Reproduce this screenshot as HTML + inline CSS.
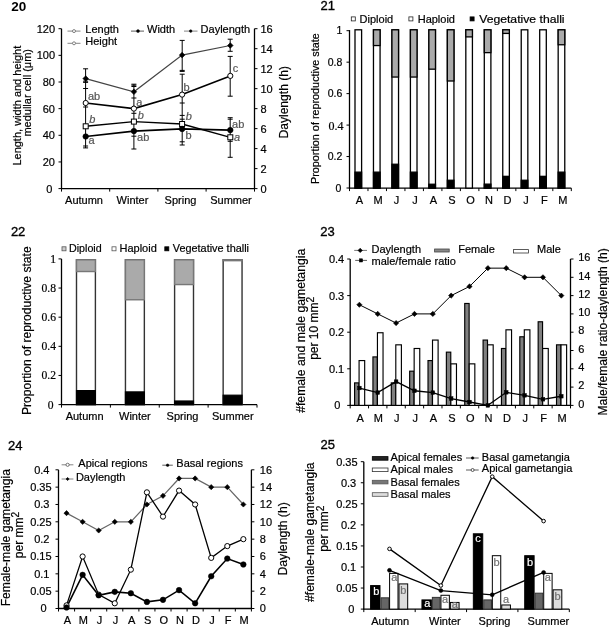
<!DOCTYPE html>
<html><head><meta charset="utf-8"><style>
html,body{margin:0;padding:0;background:#fff;width:609px;height:627px;overflow:hidden}
svg{display:block;filter:blur(0.45px)}
</style></head><body>
<svg width="609" height="627" viewBox="0 0 609 627">
<rect width="609" height="627" fill="#fff"/>
<text x="11.20" y="10.90" font-size="13.5" text-anchor="start" fill="#000" font-weight="bold" style='font-family:"Liberation Sans", sans-serif'>20</text>
<line x1="61.50" y1="28.70" x2="61.50" y2="189.10" stroke="#000" stroke-width="1.3"/>
<line x1="60.90" y1="188.60" x2="255.10" y2="188.60" stroke="#000" stroke-width="1.3"/>
<line x1="254.50" y1="28.70" x2="254.50" y2="189.10" stroke="#000" stroke-width="1.3"/>
<line x1="58.50" y1="188.60" x2="61.50" y2="188.60" stroke="#000" stroke-width="1"/>
<text x="46.35" y="192.50" font-size="11" text-anchor="start" fill="#000" font-weight="normal" style='font-family:"Liberation Sans", sans-serif' stroke="#000" stroke-width="0.2">0</text>
<line x1="58.50" y1="161.95" x2="61.50" y2="161.95" stroke="#000" stroke-width="1"/>
<text x="55.00" y="165.85" font-size="11" text-anchor="end" fill="#000" font-weight="normal" style='font-family:"Liberation Sans", sans-serif' stroke="#000" stroke-width="0.2">20</text>
<line x1="58.50" y1="135.30" x2="61.50" y2="135.30" stroke="#000" stroke-width="1"/>
<text x="55.00" y="139.20" font-size="11" text-anchor="end" fill="#000" font-weight="normal" style='font-family:"Liberation Sans", sans-serif' stroke="#000" stroke-width="0.2">40</text>
<line x1="58.50" y1="108.65" x2="61.50" y2="108.65" stroke="#000" stroke-width="1"/>
<text x="55.00" y="112.55" font-size="11" text-anchor="end" fill="#000" font-weight="normal" style='font-family:"Liberation Sans", sans-serif' stroke="#000" stroke-width="0.2">60</text>
<line x1="58.50" y1="82.00" x2="61.50" y2="82.00" stroke="#000" stroke-width="1"/>
<text x="55.00" y="85.90" font-size="11" text-anchor="end" fill="#000" font-weight="normal" style='font-family:"Liberation Sans", sans-serif' stroke="#000" stroke-width="0.2">80</text>
<line x1="58.50" y1="55.35" x2="61.50" y2="55.35" stroke="#000" stroke-width="1"/>
<text x="55.00" y="59.25" font-size="11" text-anchor="end" fill="#000" font-weight="normal" style='font-family:"Liberation Sans", sans-serif' stroke="#000" stroke-width="0.2">100</text>
<line x1="58.50" y1="28.70" x2="61.50" y2="28.70" stroke="#000" stroke-width="1"/>
<text x="55.00" y="32.60" font-size="11" text-anchor="end" fill="#000" font-weight="normal" style='font-family:"Liberation Sans", sans-serif' stroke="#000" stroke-width="0.2">120</text>
<line x1="254.50" y1="188.60" x2="257.50" y2="188.60" stroke="#000" stroke-width="1"/>
<text x="260.50" y="192.50" font-size="11" text-anchor="start" fill="#000" font-weight="normal" style='font-family:"Liberation Sans", sans-serif' stroke="#000" stroke-width="0.2">0</text>
<line x1="254.50" y1="168.61" x2="257.50" y2="168.61" stroke="#000" stroke-width="1"/>
<text x="260.50" y="172.51" font-size="11" text-anchor="start" fill="#000" font-weight="normal" style='font-family:"Liberation Sans", sans-serif' stroke="#000" stroke-width="0.2">2</text>
<line x1="254.50" y1="148.62" x2="257.50" y2="148.62" stroke="#000" stroke-width="1"/>
<text x="260.50" y="152.53" font-size="11" text-anchor="start" fill="#000" font-weight="normal" style='font-family:"Liberation Sans", sans-serif' stroke="#000" stroke-width="0.2">4</text>
<line x1="254.50" y1="128.64" x2="257.50" y2="128.64" stroke="#000" stroke-width="1"/>
<text x="260.50" y="132.54" font-size="11" text-anchor="start" fill="#000" font-weight="normal" style='font-family:"Liberation Sans", sans-serif' stroke="#000" stroke-width="0.2">6</text>
<line x1="254.50" y1="108.65" x2="257.50" y2="108.65" stroke="#000" stroke-width="1"/>
<text x="260.50" y="112.55" font-size="11" text-anchor="start" fill="#000" font-weight="normal" style='font-family:"Liberation Sans", sans-serif' stroke="#000" stroke-width="0.2">8</text>
<line x1="254.50" y1="88.66" x2="257.50" y2="88.66" stroke="#000" stroke-width="1"/>
<text x="260.50" y="92.56" font-size="11" text-anchor="start" fill="#000" font-weight="normal" style='font-family:"Liberation Sans", sans-serif' stroke="#000" stroke-width="0.2">10</text>
<line x1="254.50" y1="68.67" x2="257.50" y2="68.67" stroke="#000" stroke-width="1"/>
<text x="260.50" y="72.57" font-size="11" text-anchor="start" fill="#000" font-weight="normal" style='font-family:"Liberation Sans", sans-serif' stroke="#000" stroke-width="0.2">12</text>
<line x1="254.50" y1="48.69" x2="257.50" y2="48.69" stroke="#000" stroke-width="1"/>
<text x="260.50" y="52.59" font-size="11" text-anchor="start" fill="#000" font-weight="normal" style='font-family:"Liberation Sans", sans-serif' stroke="#000" stroke-width="0.2">14</text>
<line x1="254.50" y1="28.70" x2="257.50" y2="28.70" stroke="#000" stroke-width="1"/>
<text x="260.50" y="32.60" font-size="11" text-anchor="start" fill="#000" font-weight="normal" style='font-family:"Liberation Sans", sans-serif' stroke="#000" stroke-width="0.2">16</text>
<line x1="61.50" y1="188.60" x2="61.50" y2="191.60" stroke="#000" stroke-width="1"/>
<line x1="109.70" y1="188.60" x2="109.70" y2="191.60" stroke="#000" stroke-width="1"/>
<line x1="157.90" y1="188.60" x2="157.90" y2="191.60" stroke="#000" stroke-width="1"/>
<line x1="206.10" y1="188.60" x2="206.10" y2="191.60" stroke="#000" stroke-width="1"/>
<line x1="254.50" y1="188.60" x2="254.50" y2="191.60" stroke="#000" stroke-width="1"/>
<text x="84.05" y="204.40" font-size="11" text-anchor="middle" fill="#000" font-weight="normal" style='font-family:"Liberation Sans", sans-serif' stroke="#000" stroke-width="0.2">Autumn</text>
<text x="132.50" y="204.40" font-size="11" text-anchor="middle" fill="#000" font-weight="normal" style='font-family:"Liberation Sans", sans-serif' stroke="#000" stroke-width="0.2">Winter</text>
<text x="180.50" y="204.40" font-size="11" text-anchor="middle" fill="#000" font-weight="normal" style='font-family:"Liberation Sans", sans-serif' stroke="#000" stroke-width="0.2">Spring</text>
<text x="231.00" y="204.40" font-size="11" text-anchor="middle" fill="#000" font-weight="normal" style='font-family:"Liberation Sans", sans-serif' stroke="#000" stroke-width="0.2">Summer</text>
<text x="20.60" y="165.60" font-size="11" text-anchor="start" fill="#000" font-weight="normal" style='font-family:"Liberation Sans", sans-serif' transform="rotate(-90 20.60 165.60)" stroke="#000" stroke-width="0.2">Length, width and height</text>
<text x="31.30" y="136.60" font-size="11" text-anchor="start" fill="#000" font-weight="normal" style='font-family:"Liberation Sans", sans-serif' transform="rotate(-90 31.30 136.60)" stroke="#000" stroke-width="0.2">medullar cell (&#956;m)</text>
<text x="287.80" y="138.50" font-size="12" text-anchor="start" fill="#000" font-weight="normal" style='font-family:"Liberation Sans", sans-serif' transform="rotate(-90 287.80 138.50)" textLength="72.5" lengthAdjust="spacingAndGlyphs" stroke="#000" stroke-width="0.2">Daylength (h)</text>
<line x1="85.60" y1="68.80" x2="85.60" y2="148.00" stroke="#000" stroke-width="1"/>
<line x1="83.10" y1="68.80" x2="88.10" y2="68.80" stroke="#000" stroke-width="1"/>
<line x1="83.10" y1="81.20" x2="88.10" y2="81.20" stroke="#000" stroke-width="1"/>
<line x1="83.10" y1="82.40" x2="88.10" y2="82.40" stroke="#000" stroke-width="1"/>
<line x1="83.10" y1="88.50" x2="88.10" y2="88.50" stroke="#000" stroke-width="1"/>
<line x1="83.10" y1="107.00" x2="88.10" y2="107.00" stroke="#000" stroke-width="1"/>
<line x1="83.10" y1="146.00" x2="88.10" y2="146.00" stroke="#000" stroke-width="1"/>
<line x1="83.10" y1="147.90" x2="88.10" y2="147.90" stroke="#000" stroke-width="1"/>
<line x1="133.90" y1="84.20" x2="133.90" y2="149.00" stroke="#000" stroke-width="1"/>
<line x1="131.40" y1="84.20" x2="136.40" y2="84.20" stroke="#000" stroke-width="1"/>
<line x1="131.40" y1="85.20" x2="136.40" y2="85.20" stroke="#000" stroke-width="1"/>
<line x1="131.40" y1="86.50" x2="136.40" y2="86.50" stroke="#000" stroke-width="1"/>
<line x1="131.40" y1="98.00" x2="136.40" y2="98.00" stroke="#000" stroke-width="1"/>
<line x1="131.40" y1="113.30" x2="136.40" y2="113.30" stroke="#000" stroke-width="1"/>
<line x1="131.40" y1="136.20" x2="136.40" y2="136.20" stroke="#000" stroke-width="1"/>
<line x1="131.40" y1="149.00" x2="136.40" y2="149.00" stroke="#000" stroke-width="1"/>
<line x1="182.20" y1="40.40" x2="182.20" y2="71.40" stroke="#000" stroke-width="1"/>
<line x1="182.20" y1="74.20" x2="182.20" y2="145.00" stroke="#000" stroke-width="1"/>
<line x1="179.70" y1="40.40" x2="184.70" y2="40.40" stroke="#000" stroke-width="1"/>
<line x1="179.70" y1="70.40" x2="184.70" y2="70.40" stroke="#000" stroke-width="1"/>
<line x1="179.70" y1="71.40" x2="184.70" y2="71.40" stroke="#000" stroke-width="1"/>
<line x1="179.70" y1="74.20" x2="184.70" y2="74.20" stroke="#000" stroke-width="1"/>
<line x1="179.70" y1="103.00" x2="184.70" y2="103.00" stroke="#000" stroke-width="1"/>
<line x1="179.70" y1="115.40" x2="184.70" y2="115.40" stroke="#000" stroke-width="1"/>
<line x1="179.70" y1="119.20" x2="184.70" y2="119.20" stroke="#000" stroke-width="1"/>
<line x1="179.70" y1="141.80" x2="184.70" y2="141.80" stroke="#000" stroke-width="1"/>
<line x1="179.70" y1="145.00" x2="184.70" y2="145.00" stroke="#000" stroke-width="1"/>
<line x1="230.20" y1="39.20" x2="230.20" y2="51.30" stroke="#000" stroke-width="1"/>
<line x1="227.70" y1="39.20" x2="232.70" y2="39.20" stroke="#000" stroke-width="1"/>
<line x1="227.70" y1="51.30" x2="232.70" y2="51.30" stroke="#000" stroke-width="1"/>
<line x1="230.20" y1="56.40" x2="230.20" y2="96.20" stroke="#000" stroke-width="1"/>
<line x1="227.70" y1="56.40" x2="232.70" y2="56.40" stroke="#000" stroke-width="1"/>
<line x1="227.70" y1="96.20" x2="232.70" y2="96.20" stroke="#000" stroke-width="1"/>
<line x1="230.20" y1="117.70" x2="230.20" y2="157.30" stroke="#000" stroke-width="1"/>
<line x1="227.70" y1="117.70" x2="232.70" y2="117.70" stroke="#000" stroke-width="1"/>
<line x1="227.70" y1="119.20" x2="232.70" y2="119.20" stroke="#000" stroke-width="1"/>
<line x1="227.70" y1="141.30" x2="232.70" y2="141.30" stroke="#000" stroke-width="1"/>
<line x1="227.70" y1="157.30" x2="232.70" y2="157.30" stroke="#000" stroke-width="1"/>
<polyline points="85.70,78.60 133.90,91.80 182.10,55.10 230.30,45.50" fill="none" stroke="#444" stroke-width="1.2" stroke-linejoin="miter"/>
<polyline points="85.70,103.00 133.90,108.60 182.10,94.60 230.30,75.90" fill="none" stroke="#000" stroke-width="1.6" stroke-linejoin="miter"/>
<polyline points="85.70,126.30 133.90,121.60 182.10,124.00 230.30,137.30" fill="none" stroke="#000" stroke-width="1.4" stroke-linejoin="miter"/>
<polyline points="85.70,136.50 133.90,131.10 182.10,128.90 230.30,130.10" fill="none" stroke="#000" stroke-width="1.6" stroke-linejoin="miter"/>
<path d="M85.70 75.80L88.50 78.60L85.70 81.40L82.90 78.60Z" fill="#000" stroke="#000" stroke-width="0.6"/>
<path d="M133.90 89.00L136.70 91.80L133.90 94.60L131.10 91.80Z" fill="#000" stroke="#000" stroke-width="0.6"/>
<path d="M182.10 52.30L184.90 55.10L182.10 57.90L179.30 55.10Z" fill="#000" stroke="#000" stroke-width="0.6"/>
<path d="M230.30 42.70L233.10 45.50L230.30 48.30L227.50 45.50Z" fill="#000" stroke="#000" stroke-width="0.6"/>
<circle cx="85.70" cy="103.00" r="2.6" fill="#fff" stroke="#000" stroke-width="1"/>
<circle cx="133.90" cy="108.60" r="2.6" fill="#fff" stroke="#000" stroke-width="1"/>
<circle cx="182.10" cy="94.60" r="2.6" fill="#fff" stroke="#000" stroke-width="1"/>
<circle cx="230.30" cy="75.90" r="2.6" fill="#fff" stroke="#000" stroke-width="1"/>
<rect x="83.20" y="123.80" width="5.00" height="5.00" fill="#fff" stroke="#000" stroke-width="1"/>
<rect x="131.40" y="119.10" width="5.00" height="5.00" fill="#fff" stroke="#000" stroke-width="1"/>
<rect x="179.60" y="121.50" width="5.00" height="5.00" fill="#fff" stroke="#000" stroke-width="1"/>
<rect x="227.80" y="134.80" width="5.00" height="5.00" fill="#fff" stroke="#000" stroke-width="1"/>
<circle cx="85.70" cy="136.50" r="2.8" fill="#000" stroke="#000" stroke-width="0.5"/>
<circle cx="133.90" cy="131.10" r="2.8" fill="#000" stroke="#000" stroke-width="0.5"/>
<circle cx="182.10" cy="128.90" r="2.8" fill="#000" stroke="#000" stroke-width="0.5"/>
<circle cx="230.30" cy="130.10" r="2.8" fill="#000" stroke="#000" stroke-width="0.5"/>
<text x="88.00" y="100.20" font-size="11" text-anchor="start" fill="#555" font-weight="normal" style='font-family:"Liberation Sans", sans-serif' stroke="#555" stroke-width="0.2">ab</text>
<text x="89.20" y="123.00" font-size="11" text-anchor="start" fill="#555" font-weight="normal" style='font-family:"Liberation Sans", sans-serif' font-style="italic" stroke="#555" stroke-width="0.2">b</text>
<text x="88.50" y="144.00" font-size="11" text-anchor="start" fill="#555" font-weight="normal" style='font-family:"Liberation Sans", sans-serif' stroke="#555" stroke-width="0.2">a</text>
<text x="136.30" y="106.30" font-size="11" text-anchor="start" fill="#555" font-weight="normal" style='font-family:"Liberation Sans", sans-serif' stroke="#555" stroke-width="0.2">a</text>
<text x="137.80" y="119.00" font-size="11" text-anchor="start" fill="#555" font-weight="normal" style='font-family:"Liberation Sans", sans-serif' font-style="italic" stroke="#555" stroke-width="0.2">b</text>
<text x="137.10" y="141.30" font-size="11" text-anchor="start" fill="#555" font-weight="normal" style='font-family:"Liberation Sans", sans-serif' stroke="#555" stroke-width="0.2">ab</text>
<text x="183.60" y="90.50" font-size="11" text-anchor="start" fill="#555" font-weight="normal" style='font-family:"Liberation Sans", sans-serif' stroke="#555" stroke-width="0.2">b</text>
<text x="185.80" y="120.20" font-size="11" text-anchor="start" fill="#555" font-weight="normal" style='font-family:"Liberation Sans", sans-serif' font-style="italic" stroke="#555" stroke-width="0.2">b</text>
<text x="185.60" y="139.30" font-size="11" text-anchor="start" fill="#555" font-weight="normal" style='font-family:"Liberation Sans", sans-serif' stroke="#555" stroke-width="0.2">b</text>
<text x="232.80" y="72.30" font-size="11" text-anchor="start" fill="#555" font-weight="normal" style='font-family:"Liberation Sans", sans-serif' stroke="#555" stroke-width="0.2">c</text>
<text x="232.10" y="127.80" font-size="11" text-anchor="start" fill="#555" font-weight="normal" style='font-family:"Liberation Sans", sans-serif' stroke="#555" stroke-width="0.2">ab</text>
<text x="234.00" y="141.20" font-size="11" text-anchor="start" fill="#555" font-weight="normal" style='font-family:"Liberation Sans", sans-serif' font-style="italic" stroke="#555" stroke-width="0.2">a</text>
<line x1="67.50" y1="31.10" x2="80.50" y2="31.10" stroke="#666" stroke-width="0.8"/>
<circle cx="74.00" cy="31.10" r="1.5" fill="#fff" stroke="#666" stroke-width="0.8"/>
<text x="85.30" y="32.80" font-size="11" text-anchor="start" fill="#000" font-weight="normal" style='font-family:"Liberation Sans", sans-serif' stroke="#000" stroke-width="0.2">Length</text>
<line x1="67.50" y1="43.30" x2="80.50" y2="43.30" stroke="#666" stroke-width="0.8"/>
<circle cx="74.00" cy="43.30" r="1.5" fill="#fff" stroke="#666" stroke-width="0.8"/>
<text x="85.30" y="44.80" font-size="11" text-anchor="start" fill="#000" font-weight="normal" style='font-family:"Liberation Sans", sans-serif' stroke="#000" stroke-width="0.2">Height</text>
<line x1="131.00" y1="31.10" x2="144.00" y2="31.10" stroke="#333" stroke-width="0.8"/>
<circle cx="138.00" cy="31.10" r="1.5" fill="#000" stroke="#000" stroke-width="0.4"/>
<text x="147.00" y="32.80" font-size="11" text-anchor="start" fill="#000" font-weight="normal" style='font-family:"Liberation Sans", sans-serif' stroke="#000" stroke-width="0.2">Width</text>
<line x1="184.00" y1="31.10" x2="197.50" y2="31.10" stroke="#666" stroke-width="0.8"/>
<circle cx="190.70" cy="31.10" r="1.3" fill="#000" stroke="#000" stroke-width="0.5"/>
<text x="200.60" y="32.80" font-size="11" text-anchor="start" fill="#000" font-weight="normal" style='font-family:"Liberation Sans", sans-serif' stroke="#000" stroke-width="0.2">Daylength</text>
<text x="320.60" y="10.30" font-size="13" text-anchor="start" fill="#000" font-weight="normal" style='font-family:"Liberation Sans", sans-serif' stroke="#000" stroke-width="0.35">21</text>
<line x1="349.50" y1="30.10" x2="349.50" y2="188.70" stroke="#000" stroke-width="1.3"/>
<line x1="348.90" y1="188.10" x2="571.30" y2="188.10" stroke="#000" stroke-width="1.3"/>
<line x1="346.50" y1="188.00" x2="349.50" y2="188.00" stroke="#000" stroke-width="1"/>
<text x="335.60" y="191.70" font-size="10.5" text-anchor="start" fill="#000" font-weight="normal" style='font-family:"Liberation Sans", sans-serif' stroke="#000" stroke-width="0.2">0</text>
<line x1="346.50" y1="156.54" x2="349.50" y2="156.54" stroke="#000" stroke-width="1"/>
<text x="342.40" y="160.24" font-size="10.5" text-anchor="end" fill="#000" font-weight="normal" style='font-family:"Liberation Sans", sans-serif' stroke="#000" stroke-width="0.2">0.2</text>
<line x1="346.50" y1="125.08" x2="349.50" y2="125.08" stroke="#000" stroke-width="1"/>
<text x="343.60" y="129.50" font-size="12" text-anchor="end" fill="#000" font-weight="normal" style='font-family:"Liberation Serif", serif' stroke="#000" stroke-width="0.2">0.4</text>
<line x1="346.50" y1="93.62" x2="349.50" y2="93.62" stroke="#000" stroke-width="1"/>
<text x="342.40" y="97.32" font-size="10.5" text-anchor="end" fill="#000" font-weight="normal" style='font-family:"Liberation Sans", sans-serif' stroke="#000" stroke-width="0.2">0.6</text>
<line x1="346.50" y1="62.16" x2="349.50" y2="62.16" stroke="#000" stroke-width="1"/>
<text x="342.40" y="65.86" font-size="10.5" text-anchor="end" fill="#000" font-weight="normal" style='font-family:"Liberation Sans", sans-serif' stroke="#000" stroke-width="0.2">0.8</text>
<line x1="346.50" y1="30.70" x2="349.50" y2="30.70" stroke="#000" stroke-width="1"/>
<text x="342.40" y="34.40" font-size="10.5" text-anchor="end" fill="#000" font-weight="normal" style='font-family:"Liberation Sans", sans-serif' stroke="#000" stroke-width="0.2">1</text>
<line x1="349.50" y1="188.10" x2="349.50" y2="191.10" stroke="#000" stroke-width="1"/>
<line x1="367.98" y1="188.10" x2="367.98" y2="191.10" stroke="#000" stroke-width="1"/>
<line x1="386.47" y1="188.10" x2="386.47" y2="191.10" stroke="#000" stroke-width="1"/>
<line x1="404.95" y1="188.10" x2="404.95" y2="191.10" stroke="#000" stroke-width="1"/>
<line x1="423.43" y1="188.10" x2="423.43" y2="191.10" stroke="#000" stroke-width="1"/>
<line x1="441.92" y1="188.10" x2="441.92" y2="191.10" stroke="#000" stroke-width="1"/>
<line x1="460.40" y1="188.10" x2="460.40" y2="191.10" stroke="#000" stroke-width="1"/>
<line x1="478.88" y1="188.10" x2="478.88" y2="191.10" stroke="#000" stroke-width="1"/>
<line x1="497.37" y1="188.10" x2="497.37" y2="191.10" stroke="#000" stroke-width="1"/>
<line x1="515.85" y1="188.10" x2="515.85" y2="191.10" stroke="#000" stroke-width="1"/>
<line x1="534.33" y1="188.10" x2="534.33" y2="191.10" stroke="#000" stroke-width="1"/>
<line x1="552.82" y1="188.10" x2="552.82" y2="191.10" stroke="#000" stroke-width="1"/>
<line x1="571.30" y1="188.10" x2="571.30" y2="191.10" stroke="#000" stroke-width="1"/>
<rect x="355.00" y="29.80" width="6.60" height="158.30" fill="#fff" stroke="#000" stroke-width="1.3"/>
<rect x="355.00" y="172.15" width="6.60" height="15.95" fill="#000" stroke="#000" stroke-width="1.3"/>
<text x="359.54" y="203.80" font-size="11" text-anchor="middle" fill="#000" font-weight="normal" style='font-family:"Liberation Sans", sans-serif' stroke="#000" stroke-width="0.2">A</text>
<rect x="373.47" y="29.80" width="6.60" height="158.30" fill="#fff" stroke="#000" stroke-width="1.3"/>
<rect x="373.47" y="29.80" width="6.60" height="15.75" fill="#aaa" stroke="#000" stroke-width="1.3"/>
<rect x="373.47" y="172.15" width="6.60" height="15.95" fill="#000" stroke="#000" stroke-width="1.3"/>
<text x="378.03" y="203.80" font-size="11" text-anchor="middle" fill="#000" font-weight="normal" style='font-family:"Liberation Sans", sans-serif' stroke="#000" stroke-width="0.2">M</text>
<rect x="391.94" y="29.80" width="6.60" height="158.30" fill="#fff" stroke="#000" stroke-width="1.3"/>
<rect x="391.94" y="29.80" width="6.60" height="47.25" fill="#aaa" stroke="#000" stroke-width="1.3"/>
<rect x="391.94" y="164.25" width="6.60" height="23.85" fill="#000" stroke="#000" stroke-width="1.3"/>
<text x="396.51" y="203.80" font-size="11" text-anchor="middle" fill="#000" font-weight="normal" style='font-family:"Liberation Sans", sans-serif' stroke="#000" stroke-width="0.2">J</text>
<rect x="410.41" y="29.80" width="6.60" height="158.30" fill="#fff" stroke="#000" stroke-width="1.3"/>
<rect x="410.41" y="29.80" width="6.60" height="47.25" fill="#aaa" stroke="#000" stroke-width="1.3"/>
<rect x="410.41" y="172.15" width="6.60" height="15.95" fill="#000" stroke="#000" stroke-width="1.3"/>
<text x="414.99" y="203.80" font-size="11" text-anchor="middle" fill="#000" font-weight="normal" style='font-family:"Liberation Sans", sans-serif' stroke="#000" stroke-width="0.2">J</text>
<rect x="428.88" y="29.80" width="6.60" height="158.30" fill="#fff" stroke="#000" stroke-width="1.3"/>
<rect x="428.88" y="29.80" width="6.60" height="39.38" fill="#aaa" stroke="#000" stroke-width="1.3"/>
<rect x="428.88" y="184.25" width="6.60" height="3.85" fill="#000" stroke="#000" stroke-width="1.3"/>
<text x="433.47" y="203.80" font-size="11" text-anchor="middle" fill="#000" font-weight="normal" style='font-family:"Liberation Sans", sans-serif' stroke="#000" stroke-width="0.2">A</text>
<rect x="447.35" y="29.80" width="6.60" height="158.30" fill="#fff" stroke="#000" stroke-width="1.3"/>
<rect x="447.35" y="29.80" width="6.60" height="51.19" fill="#aaa" stroke="#000" stroke-width="1.3"/>
<rect x="447.35" y="180.25" width="6.60" height="7.85" fill="#000" stroke="#000" stroke-width="1.3"/>
<text x="451.96" y="203.80" font-size="11" text-anchor="middle" fill="#000" font-weight="normal" style='font-family:"Liberation Sans", sans-serif' stroke="#000" stroke-width="0.2">S</text>
<rect x="465.82" y="29.80" width="6.60" height="158.30" fill="#fff" stroke="#000" stroke-width="1.3"/>
<rect x="465.82" y="29.80" width="6.60" height="7.09" fill="#aaa" stroke="#000" stroke-width="1.3"/>
<text x="470.44" y="203.80" font-size="11" text-anchor="middle" fill="#000" font-weight="normal" style='font-family:"Liberation Sans", sans-serif' stroke="#000" stroke-width="0.2">O</text>
<rect x="484.29" y="29.80" width="6.60" height="158.30" fill="#fff" stroke="#000" stroke-width="1.3"/>
<rect x="484.29" y="29.80" width="6.60" height="22.84" fill="#aaa" stroke="#000" stroke-width="1.3"/>
<rect x="484.29" y="184.15" width="6.60" height="3.95" fill="#000" stroke="#000" stroke-width="1.3"/>
<text x="488.93" y="203.80" font-size="11" text-anchor="middle" fill="#000" font-weight="normal" style='font-family:"Liberation Sans", sans-serif' stroke="#000" stroke-width="0.2">N</text>
<rect x="502.76" y="29.80" width="6.60" height="158.30" fill="#fff" stroke="#000" stroke-width="1.3"/>
<rect x="502.76" y="29.80" width="6.60" height="3.62" fill="#aaa" stroke="#000" stroke-width="1.3"/>
<rect x="502.76" y="176.35" width="6.60" height="11.75" fill="#000" stroke="#000" stroke-width="1.3"/>
<text x="507.41" y="203.80" font-size="11" text-anchor="middle" fill="#000" font-weight="normal" style='font-family:"Liberation Sans", sans-serif' stroke="#000" stroke-width="0.2">D</text>
<rect x="521.23" y="29.80" width="6.60" height="158.30" fill="#fff" stroke="#000" stroke-width="1.3"/>
<rect x="521.23" y="180.25" width="6.60" height="7.85" fill="#000" stroke="#000" stroke-width="1.3"/>
<text x="525.89" y="203.80" font-size="11" text-anchor="middle" fill="#000" font-weight="normal" style='font-family:"Liberation Sans", sans-serif' stroke="#000" stroke-width="0.2">J</text>
<rect x="539.70" y="29.80" width="6.60" height="158.30" fill="#fff" stroke="#000" stroke-width="1.3"/>
<rect x="539.70" y="176.35" width="6.60" height="11.75" fill="#000" stroke="#000" stroke-width="1.3"/>
<text x="544.37" y="203.80" font-size="11" text-anchor="middle" fill="#000" font-weight="normal" style='font-family:"Liberation Sans", sans-serif' stroke="#000" stroke-width="0.2">F</text>
<rect x="558.17" y="29.80" width="6.60" height="158.30" fill="#fff" stroke="#000" stroke-width="1.3"/>
<rect x="558.17" y="29.80" width="6.60" height="14.96" fill="#aaa" stroke="#000" stroke-width="1.3"/>
<rect x="558.17" y="172.15" width="6.60" height="15.95" fill="#000" stroke="#000" stroke-width="1.3"/>
<text x="562.86" y="203.80" font-size="11" text-anchor="middle" fill="#000" font-weight="normal" style='font-family:"Liberation Sans", sans-serif' stroke="#000" stroke-width="0.2">M</text>
<text x="318.50" y="184.00" font-size="11" text-anchor="start" fill="#000" font-weight="normal" style='font-family:"Liberation Sans", sans-serif' transform="rotate(-90 318.50 184.00)" textLength="150.8" lengthAdjust="spacingAndGlyphs" stroke="#000" stroke-width="0.2">Proportion of reproductive state</text>
<rect x="351.30" y="16.90" width="4.00" height="4.00" fill="#fff" stroke="#222" stroke-width="0.8"/>
<text x="359.60" y="22.70" font-size="11" text-anchor="start" fill="#000" font-weight="normal" style='font-family:"Liberation Sans", sans-serif' stroke="#000" stroke-width="0.2">Diploid</text>
<rect x="408.90" y="16.90" width="4.00" height="4.00" fill="#fff" stroke="#222" stroke-width="0.8"/>
<text x="417.70" y="22.70" font-size="11" text-anchor="start" fill="#000" font-weight="normal" style='font-family:"Liberation Sans", sans-serif' stroke="#000" stroke-width="0.2">Haploid</text>
<rect x="470.10" y="16.90" width="4.00" height="4.00" fill="#000" stroke="#000" stroke-width="0.8"/>
<text x="479.20" y="22.70" font-size="11" text-anchor="start" fill="#000" font-weight="normal" style='font-family:"Liberation Sans", sans-serif' textLength="85.4" lengthAdjust="spacingAndGlyphs" stroke="#000" stroke-width="0.2">Vegetative thalli</text>
<text x="10.90" y="236.20" font-size="13" text-anchor="start" fill="#000" font-weight="normal" style='font-family:"Liberation Sans", sans-serif' stroke="#000" stroke-width="0.35">22</text>
<line x1="61.50" y1="258.90" x2="61.50" y2="405.10" stroke="#000" stroke-width="1.3"/>
<line x1="60.90" y1="404.60" x2="257.00" y2="404.60" stroke="#000" stroke-width="1.3"/>
<line x1="58.50" y1="404.60" x2="61.50" y2="404.60" stroke="#000" stroke-width="1"/>
<text x="53.50" y="408.50" font-size="11.6" text-anchor="end" fill="#000" font-weight="normal" style='font-family:"Liberation Serif", serif' stroke="#000" stroke-width="0.2">0</text>
<line x1="58.50" y1="375.46" x2="61.50" y2="375.46" stroke="#000" stroke-width="1"/>
<text x="56.00" y="379.36" font-size="11.6" text-anchor="end" fill="#000" font-weight="normal" style='font-family:"Liberation Serif", serif' stroke="#000" stroke-width="0.2">0.2</text>
<line x1="58.50" y1="346.32" x2="61.50" y2="346.32" stroke="#000" stroke-width="1"/>
<text x="56.00" y="350.22" font-size="11.6" text-anchor="end" fill="#000" font-weight="normal" style='font-family:"Liberation Serif", serif' stroke="#000" stroke-width="0.2">0.4</text>
<line x1="58.50" y1="317.18" x2="61.50" y2="317.18" stroke="#000" stroke-width="1"/>
<text x="56.00" y="321.08" font-size="11.6" text-anchor="end" fill="#000" font-weight="normal" style='font-family:"Liberation Serif", serif' stroke="#000" stroke-width="0.2">0.6</text>
<line x1="58.50" y1="288.04" x2="61.50" y2="288.04" stroke="#000" stroke-width="1"/>
<text x="56.00" y="291.94" font-size="11.6" text-anchor="end" fill="#000" font-weight="normal" style='font-family:"Liberation Serif", serif' stroke="#000" stroke-width="0.2">0.8</text>
<line x1="58.50" y1="258.90" x2="61.50" y2="258.90" stroke="#000" stroke-width="1"/>
<text x="56.00" y="262.80" font-size="11.6" text-anchor="end" fill="#000" font-weight="normal" style='font-family:"Liberation Serif", serif' stroke="#000" stroke-width="0.2">1</text>
<line x1="61.50" y1="404.60" x2="61.50" y2="407.60" stroke="#000" stroke-width="1"/>
<line x1="110.38" y1="404.60" x2="110.38" y2="407.60" stroke="#000" stroke-width="1"/>
<line x1="159.25" y1="404.60" x2="159.25" y2="407.60" stroke="#000" stroke-width="1"/>
<line x1="208.12" y1="404.60" x2="208.12" y2="407.60" stroke="#000" stroke-width="1"/>
<line x1="257.00" y1="404.60" x2="257.00" y2="407.60" stroke="#000" stroke-width="1"/>
<rect x="76.50" y="259.80" width="18.90" height="144.80" fill="#fff" stroke="#333" stroke-width="1.4"/>
<rect x="76.50" y="259.80" width="18.90" height="11.73" fill="#aaa" stroke="#777" stroke-width="1.4"/>
<rect x="76.50" y="390.60" width="18.90" height="14.00" fill="#000" stroke="#000" stroke-width="1.2"/>
<text x="84.60" y="420.20" font-size="11" text-anchor="middle" fill="#000" font-weight="normal" style='font-family:"Liberation Sans", sans-serif' stroke="#000" stroke-width="0.2">Autumn</text>
<rect x="125.45" y="259.80" width="18.90" height="144.80" fill="#fff" stroke="#333" stroke-width="1.4"/>
<rect x="125.45" y="259.80" width="18.90" height="39.96" fill="#aaa" stroke="#777" stroke-width="1.4"/>
<rect x="125.45" y="391.90" width="18.90" height="12.70" fill="#000" stroke="#000" stroke-width="1.2"/>
<text x="134.90" y="420.20" font-size="11" text-anchor="middle" fill="#000" font-weight="normal" style='font-family:"Liberation Sans", sans-serif' stroke="#000" stroke-width="0.2">Winter</text>
<rect x="174.60" y="259.80" width="18.90" height="144.80" fill="#fff" stroke="#333" stroke-width="1.4"/>
<rect x="174.60" y="259.80" width="18.90" height="24.76" fill="#aaa" stroke="#777" stroke-width="1.4"/>
<rect x="174.60" y="401.00" width="18.90" height="3.60" fill="#000" stroke="#000" stroke-width="1.2"/>
<text x="182.50" y="420.20" font-size="11" text-anchor="middle" fill="#000" font-weight="normal" style='font-family:"Liberation Sans", sans-serif' stroke="#000" stroke-width="0.2">Spring</text>
<rect x="223.15" y="259.80" width="18.90" height="144.80" fill="#fff" stroke="#333" stroke-width="1.4"/>
<rect x="223.15" y="259.80" width="18.90" height="0.87" fill="#aaa" stroke="#777" stroke-width="1.4"/>
<rect x="223.15" y="395.20" width="18.90" height="9.40" fill="#000" stroke="#000" stroke-width="1.2"/>
<text x="232.80" y="420.20" font-size="11" text-anchor="middle" fill="#000" font-weight="normal" style='font-family:"Liberation Sans", sans-serif' stroke="#000" stroke-width="0.2">Summer</text>
<text x="30.60" y="415.10" font-size="12" text-anchor="start" fill="#000" font-weight="normal" style='font-family:"Liberation Sans", sans-serif' transform="rotate(-90 30.60 415.10)" textLength="168.8" lengthAdjust="spacingAndGlyphs" stroke="#000" stroke-width="0.2">Proportion of reproductive state</text>
<rect x="62.00" y="246.80" width="4.00" height="4.00" fill="#ccc" stroke="#555" stroke-width="0.8"/>
<text x="69.00" y="251.80" font-size="11" text-anchor="start" fill="#000" font-weight="normal" style='font-family:"Liberation Sans", sans-serif' textLength="32.7" lengthAdjust="spacingAndGlyphs" stroke="#000" stroke-width="0.2">Diploid</text>
<rect x="112.00" y="246.80" width="4.00" height="4.00" fill="#fff" stroke="#555" stroke-width="0.8"/>
<text x="119.50" y="251.80" font-size="11" text-anchor="start" fill="#000" font-weight="normal" style='font-family:"Liberation Sans", sans-serif' stroke="#000" stroke-width="0.2">Haploid</text>
<rect x="164.80" y="246.80" width="4.00" height="4.00" fill="#000" stroke="#000" stroke-width="0.8"/>
<text x="172.80" y="251.80" font-size="11" text-anchor="start" fill="#000" font-weight="normal" style='font-family:"Liberation Sans", sans-serif' textLength="76.2" lengthAdjust="spacingAndGlyphs" stroke="#000" stroke-width="0.2">Vegetative thalli</text>
<text x="320.30" y="235.90" font-size="13" text-anchor="start" fill="#000" font-weight="normal" style='font-family:"Liberation Sans", sans-serif' stroke="#000" stroke-width="0.35">23</text>
<line x1="350.20" y1="259.00" x2="350.20" y2="405.90" stroke="#000" stroke-width="1.3"/>
<line x1="570.50" y1="259.00" x2="570.50" y2="405.90" stroke="#000" stroke-width="1.3"/>
<line x1="349.60" y1="405.40" x2="571.10" y2="405.40" stroke="#000" stroke-width="1.3"/>
<line x1="347.20" y1="405.40" x2="350.20" y2="405.40" stroke="#000" stroke-width="1"/>
<text x="334.35" y="409.30" font-size="11" text-anchor="start" fill="#000" font-weight="normal" style='font-family:"Liberation Sans", sans-serif' stroke="#000" stroke-width="0.2">0</text>
<line x1="347.20" y1="368.80" x2="350.20" y2="368.80" stroke="#000" stroke-width="1"/>
<text x="344.20" y="372.70" font-size="11" text-anchor="end" fill="#000" font-weight="normal" style='font-family:"Liberation Sans", sans-serif' stroke="#000" stroke-width="0.2">0.1</text>
<line x1="347.20" y1="332.20" x2="350.20" y2="332.20" stroke="#000" stroke-width="1"/>
<text x="344.20" y="336.10" font-size="11" text-anchor="end" fill="#000" font-weight="normal" style='font-family:"Liberation Sans", sans-serif' stroke="#000" stroke-width="0.2">0.2</text>
<line x1="347.20" y1="295.60" x2="350.20" y2="295.60" stroke="#000" stroke-width="1"/>
<text x="344.20" y="299.50" font-size="11" text-anchor="end" fill="#000" font-weight="normal" style='font-family:"Liberation Sans", sans-serif' stroke="#000" stroke-width="0.2">0.3</text>
<line x1="347.20" y1="259.00" x2="350.20" y2="259.00" stroke="#000" stroke-width="1"/>
<text x="344.20" y="262.90" font-size="11" text-anchor="end" fill="#000" font-weight="normal" style='font-family:"Liberation Sans", sans-serif' stroke="#000" stroke-width="0.2">0.4</text>
<line x1="570.50" y1="405.40" x2="573.50" y2="405.40" stroke="#000" stroke-width="1"/>
<text x="578.20" y="407.60" font-size="11" text-anchor="start" fill="#000" font-weight="normal" style='font-family:"Liberation Sans", sans-serif' stroke="#000" stroke-width="0.2">0</text>
<line x1="570.50" y1="387.10" x2="573.50" y2="387.10" stroke="#000" stroke-width="1"/>
<text x="578.20" y="389.30" font-size="11" text-anchor="start" fill="#000" font-weight="normal" style='font-family:"Liberation Sans", sans-serif' stroke="#000" stroke-width="0.2">2</text>
<line x1="570.50" y1="368.80" x2="573.50" y2="368.80" stroke="#000" stroke-width="1"/>
<text x="578.20" y="371.00" font-size="11" text-anchor="start" fill="#000" font-weight="normal" style='font-family:"Liberation Sans", sans-serif' stroke="#000" stroke-width="0.2">4</text>
<line x1="570.50" y1="350.50" x2="573.50" y2="350.50" stroke="#000" stroke-width="1"/>
<text x="578.20" y="352.70" font-size="11" text-anchor="start" fill="#000" font-weight="normal" style='font-family:"Liberation Sans", sans-serif' stroke="#000" stroke-width="0.2">6</text>
<line x1="570.50" y1="332.20" x2="573.50" y2="332.20" stroke="#000" stroke-width="1"/>
<text x="578.20" y="334.40" font-size="11" text-anchor="start" fill="#000" font-weight="normal" style='font-family:"Liberation Sans", sans-serif' stroke="#000" stroke-width="0.2">8</text>
<line x1="570.50" y1="313.90" x2="573.50" y2="313.90" stroke="#000" stroke-width="1"/>
<text x="578.20" y="316.10" font-size="11" text-anchor="start" fill="#000" font-weight="normal" style='font-family:"Liberation Sans", sans-serif' stroke="#000" stroke-width="0.2">10</text>
<line x1="570.50" y1="295.60" x2="573.50" y2="295.60" stroke="#000" stroke-width="1"/>
<text x="578.20" y="297.80" font-size="11" text-anchor="start" fill="#000" font-weight="normal" style='font-family:"Liberation Sans", sans-serif' stroke="#000" stroke-width="0.2">12</text>
<line x1="570.50" y1="277.30" x2="573.50" y2="277.30" stroke="#000" stroke-width="1"/>
<text x="578.20" y="279.50" font-size="11" text-anchor="start" fill="#000" font-weight="normal" style='font-family:"Liberation Sans", sans-serif' stroke="#000" stroke-width="0.2">14</text>
<line x1="570.50" y1="259.00" x2="573.50" y2="259.00" stroke="#000" stroke-width="1"/>
<text x="578.20" y="261.20" font-size="11" text-anchor="start" fill="#000" font-weight="normal" style='font-family:"Liberation Sans", sans-serif' stroke="#000" stroke-width="0.2">16</text>
<line x1="350.20" y1="405.40" x2="350.20" y2="408.40" stroke="#000" stroke-width="1"/>
<line x1="368.56" y1="405.40" x2="368.56" y2="408.40" stroke="#000" stroke-width="1"/>
<line x1="386.92" y1="405.40" x2="386.92" y2="408.40" stroke="#000" stroke-width="1"/>
<line x1="405.27" y1="405.40" x2="405.27" y2="408.40" stroke="#000" stroke-width="1"/>
<line x1="423.63" y1="405.40" x2="423.63" y2="408.40" stroke="#000" stroke-width="1"/>
<line x1="441.99" y1="405.40" x2="441.99" y2="408.40" stroke="#000" stroke-width="1"/>
<line x1="460.35" y1="405.40" x2="460.35" y2="408.40" stroke="#000" stroke-width="1"/>
<line x1="478.71" y1="405.40" x2="478.71" y2="408.40" stroke="#000" stroke-width="1"/>
<line x1="497.07" y1="405.40" x2="497.07" y2="408.40" stroke="#000" stroke-width="1"/>
<line x1="515.42" y1="405.40" x2="515.42" y2="408.40" stroke="#000" stroke-width="1"/>
<line x1="533.78" y1="405.40" x2="533.78" y2="408.40" stroke="#000" stroke-width="1"/>
<line x1="552.14" y1="405.40" x2="552.14" y2="408.40" stroke="#000" stroke-width="1"/>
<line x1="570.50" y1="405.40" x2="570.50" y2="408.40" stroke="#000" stroke-width="1"/>
<rect x="354.58" y="382.89" width="4.40" height="22.51" fill="#808080" stroke="#000" stroke-width="1.15"/>
<rect x="359.08" y="360.57" width="5.60" height="44.83" fill="#fff" stroke="#000" stroke-width="1.15"/>
<text x="360.08" y="421.80" font-size="11" text-anchor="middle" fill="#000" font-weight="normal" style='font-family:"Liberation Sans", sans-serif' stroke="#000" stroke-width="0.2">A</text>
<rect x="372.94" y="356.91" width="4.40" height="48.49" fill="#808080" stroke="#000" stroke-width="1.15"/>
<rect x="377.44" y="332.75" width="5.60" height="72.65" fill="#fff" stroke="#000" stroke-width="1.15"/>
<text x="378.44" y="421.80" font-size="11" text-anchor="middle" fill="#000" font-weight="normal" style='font-family:"Liberation Sans", sans-serif' stroke="#000" stroke-width="0.2">M</text>
<rect x="391.30" y="382.89" width="4.40" height="22.51" fill="#808080" stroke="#000" stroke-width="1.15"/>
<rect x="395.80" y="344.83" width="5.60" height="60.57" fill="#fff" stroke="#000" stroke-width="1.15"/>
<text x="396.80" y="421.80" font-size="11" text-anchor="middle" fill="#000" font-weight="normal" style='font-family:"Liberation Sans", sans-serif' stroke="#000" stroke-width="0.2">J</text>
<rect x="409.65" y="371.18" width="4.40" height="34.22" fill="#808080" stroke="#000" stroke-width="1.15"/>
<rect x="414.15" y="348.49" width="5.60" height="56.91" fill="#fff" stroke="#000" stroke-width="1.15"/>
<text x="415.15" y="421.80" font-size="11" text-anchor="middle" fill="#000" font-weight="normal" style='font-family:"Liberation Sans", sans-serif' stroke="#000" stroke-width="0.2">J</text>
<rect x="428.01" y="360.57" width="4.40" height="44.83" fill="#808080" stroke="#000" stroke-width="1.15"/>
<rect x="432.51" y="340.07" width="5.60" height="65.33" fill="#fff" stroke="#000" stroke-width="1.15"/>
<text x="433.51" y="421.80" font-size="11" text-anchor="middle" fill="#000" font-weight="normal" style='font-family:"Liberation Sans", sans-serif' stroke="#000" stroke-width="0.2">A</text>
<rect x="446.37" y="352.15" width="4.40" height="53.25" fill="#808080" stroke="#000" stroke-width="1.15"/>
<rect x="450.87" y="363.86" width="5.60" height="41.54" fill="#fff" stroke="#000" stroke-width="1.15"/>
<text x="451.87" y="421.80" font-size="11" text-anchor="middle" fill="#000" font-weight="normal" style='font-family:"Liberation Sans", sans-serif' stroke="#000" stroke-width="0.2">S</text>
<rect x="464.73" y="303.47" width="4.40" height="101.93" fill="#808080" stroke="#000" stroke-width="1.15"/>
<rect x="469.23" y="363.86" width="5.60" height="41.54" fill="#fff" stroke="#000" stroke-width="1.15"/>
<text x="470.23" y="421.80" font-size="11" text-anchor="middle" fill="#000" font-weight="normal" style='font-family:"Liberation Sans", sans-serif' stroke="#000" stroke-width="0.2">O</text>
<rect x="483.09" y="340.07" width="4.40" height="65.33" fill="#808080" stroke="#000" stroke-width="1.15"/>
<rect x="487.59" y="344.83" width="5.60" height="60.57" fill="#fff" stroke="#000" stroke-width="1.15"/>
<text x="488.59" y="421.80" font-size="11" text-anchor="middle" fill="#000" font-weight="normal" style='font-family:"Liberation Sans", sans-serif' stroke="#000" stroke-width="0.2">N</text>
<rect x="501.45" y="348.49" width="4.40" height="56.91" fill="#808080" stroke="#000" stroke-width="1.15"/>
<rect x="505.95" y="329.82" width="5.60" height="75.58" fill="#fff" stroke="#000" stroke-width="1.15"/>
<text x="506.95" y="421.80" font-size="11" text-anchor="middle" fill="#000" font-weight="normal" style='font-family:"Liberation Sans", sans-serif' stroke="#000" stroke-width="0.2">D</text>
<rect x="519.80" y="336.78" width="4.40" height="68.62" fill="#808080" stroke="#000" stroke-width="1.15"/>
<rect x="524.30" y="329.82" width="5.60" height="75.58" fill="#fff" stroke="#000" stroke-width="1.15"/>
<text x="525.30" y="421.80" font-size="11" text-anchor="middle" fill="#000" font-weight="normal" style='font-family:"Liberation Sans", sans-serif' stroke="#000" stroke-width="0.2">J</text>
<rect x="538.16" y="321.77" width="4.40" height="83.63" fill="#808080" stroke="#000" stroke-width="1.15"/>
<rect x="542.66" y="348.49" width="5.60" height="56.91" fill="#fff" stroke="#000" stroke-width="1.15"/>
<text x="543.66" y="421.80" font-size="11" text-anchor="middle" fill="#000" font-weight="normal" style='font-family:"Liberation Sans", sans-serif' stroke="#000" stroke-width="0.2">F</text>
<rect x="556.52" y="344.83" width="4.40" height="60.57" fill="#808080" stroke="#000" stroke-width="1.15"/>
<rect x="561.02" y="344.83" width="5.60" height="60.57" fill="#fff" stroke="#000" stroke-width="1.15"/>
<text x="562.02" y="421.80" font-size="11" text-anchor="middle" fill="#000" font-weight="normal" style='font-family:"Liberation Sans", sans-serif' stroke="#000" stroke-width="0.2">M</text>
<polyline points="359.38,304.75 377.74,313.90 396.10,323.05 414.45,313.90 432.81,313.90 451.17,295.60 469.53,286.45 487.89,268.15 506.25,268.15 524.60,277.30 542.96,277.30 561.32,295.60" fill="none" stroke="#000" stroke-width="1" stroke-linejoin="miter"/>
<path d="M359.38 302.15L361.98 304.75L359.38 307.35L356.78 304.75Z" fill="#000" stroke="#000" stroke-width="0.6"/>
<path d="M377.74 311.30L380.34 313.90L377.74 316.50L375.14 313.90Z" fill="#000" stroke="#000" stroke-width="0.6"/>
<path d="M396.10 320.45L398.70 323.05L396.10 325.65L393.50 323.05Z" fill="#000" stroke="#000" stroke-width="0.6"/>
<path d="M414.45 311.30L417.05 313.90L414.45 316.50L411.85 313.90Z" fill="#000" stroke="#000" stroke-width="0.6"/>
<path d="M432.81 311.30L435.41 313.90L432.81 316.50L430.21 313.90Z" fill="#000" stroke="#000" stroke-width="0.6"/>
<path d="M451.17 293.00L453.77 295.60L451.17 298.20L448.57 295.60Z" fill="#000" stroke="#000" stroke-width="0.6"/>
<path d="M469.53 283.85L472.13 286.45L469.53 289.05L466.93 286.45Z" fill="#000" stroke="#000" stroke-width="0.6"/>
<path d="M487.89 265.55L490.49 268.15L487.89 270.75L485.29 268.15Z" fill="#000" stroke="#000" stroke-width="0.6"/>
<path d="M506.25 265.55L508.85 268.15L506.25 270.75L503.65 268.15Z" fill="#000" stroke="#000" stroke-width="0.6"/>
<path d="M524.60 274.70L527.20 277.30L524.60 279.90L522.00 277.30Z" fill="#000" stroke="#000" stroke-width="0.6"/>
<path d="M542.96 274.70L545.56 277.30L542.96 279.90L540.36 277.30Z" fill="#000" stroke="#000" stroke-width="0.6"/>
<path d="M561.32 293.00L563.92 295.60L561.32 298.20L558.72 295.60Z" fill="#000" stroke="#000" stroke-width="0.6"/>
<polyline points="359.38,388.01 377.74,392.59 396.10,381.61 414.45,390.76 432.81,392.59 451.17,398.54 469.53,402.01 487.89,405.40 506.25,392.32 524.60,395.33 542.96,399.27 561.32,396.25" fill="none" stroke="#000" stroke-width="1.3" stroke-linejoin="miter"/>
<rect x="357.58" y="386.21" width="3.60" height="3.60" fill="#000" stroke="#000" stroke-width="0.5"/>
<rect x="375.94" y="390.79" width="3.60" height="3.60" fill="#000" stroke="#000" stroke-width="0.5"/>
<rect x="394.30" y="379.81" width="3.60" height="3.60" fill="#000" stroke="#000" stroke-width="0.5"/>
<rect x="412.65" y="388.96" width="3.60" height="3.60" fill="#000" stroke="#000" stroke-width="0.5"/>
<rect x="431.01" y="390.79" width="3.60" height="3.60" fill="#000" stroke="#000" stroke-width="0.5"/>
<rect x="449.37" y="396.74" width="3.60" height="3.60" fill="#000" stroke="#000" stroke-width="0.5"/>
<rect x="467.73" y="400.21" width="3.60" height="3.60" fill="#000" stroke="#000" stroke-width="0.5"/>
<rect x="486.09" y="403.60" width="3.60" height="3.60" fill="#000" stroke="#000" stroke-width="0.5"/>
<rect x="504.45" y="390.52" width="3.60" height="3.60" fill="#000" stroke="#000" stroke-width="0.5"/>
<rect x="522.80" y="393.53" width="3.60" height="3.60" fill="#000" stroke="#000" stroke-width="0.5"/>
<rect x="541.16" y="397.47" width="3.60" height="3.60" fill="#000" stroke="#000" stroke-width="0.5"/>
<rect x="559.52" y="394.45" width="3.60" height="3.60" fill="#000" stroke="#000" stroke-width="0.5"/>
<text x="304.80" y="412.80" font-size="12" text-anchor="start" fill="#000" font-weight="normal" style='font-family:"Liberation Sans", sans-serif' transform="rotate(-90 304.80 412.80)" textLength="164.0" lengthAdjust="spacingAndGlyphs" stroke="#000" stroke-width="0.2">#female and male gametangia</text>
<text x="318.10" y="359.80" font-size="12" text-anchor="start" fill="#000" font-weight="normal" style='font-family:"Liberation Sans", sans-serif' transform="rotate(-90 318.10 359.80)" stroke="#000" stroke-width="0.2">per 10 mm<tspan font-size="10.2" dy="-3.9">2</tspan></text>
<text x="607.20" y="415.50" font-size="12" text-anchor="start" fill="#000" font-weight="normal" style='font-family:"Liberation Sans", sans-serif' transform="rotate(-90 607.20 415.50)" textLength="167.3" lengthAdjust="spacingAndGlyphs" stroke="#000" stroke-width="0.2">Male/female ratio-daylength (h)</text>
<line x1="354.20" y1="250.40" x2="367.00" y2="250.40" stroke="#555" stroke-width="0.8"/>
<path d="M360.20 248.20L362.40 250.40L360.20 252.60L358.00 250.40Z" fill="#000" stroke="#000" stroke-width="0.6"/>
<text x="371.50" y="253.00" font-size="11" text-anchor="start" fill="#000" font-weight="normal" style='font-family:"Liberation Sans", sans-serif' stroke="#000" stroke-width="0.2">Daylength</text>
<line x1="355.20" y1="260.40" x2="367.00" y2="260.40" stroke="#333" stroke-width="0.8"/>
<rect x="359.40" y="258.80" width="3.20" height="3.20" fill="#000" stroke="#000" stroke-width="0.5"/>
<text x="371.50" y="264.80" font-size="11" text-anchor="start" fill="#000" font-weight="normal" style='font-family:"Liberation Sans", sans-serif' stroke="#000" stroke-width="0.2">male/female ratio</text>
<rect x="434.60" y="249.00" width="14.60" height="3.00" fill="#888" stroke="#444" stroke-width="0.8"/>
<text x="458.20" y="252.80" font-size="11" text-anchor="start" fill="#000" font-weight="normal" style='font-family:"Liberation Sans", sans-serif' stroke="#000" stroke-width="0.2">Female</text>
<rect x="513.40" y="249.60" width="15.00" height="3.40" fill="#fff" stroke="#333" stroke-width="0.8"/>
<text x="537.00" y="252.60" font-size="11" text-anchor="start" fill="#000" font-weight="normal" style='font-family:"Liberation Sans", sans-serif' stroke="#000" stroke-width="0.2">Male</text>
<text x="8.00" y="449.90" font-size="13" text-anchor="start" fill="#000" font-weight="normal" style='font-family:"Liberation Sans", sans-serif' stroke="#000" stroke-width="0.35">24</text>
<line x1="58.50" y1="469.80" x2="58.50" y2="609.00" stroke="#000" stroke-width="1.3"/>
<line x1="251.40" y1="469.80" x2="251.40" y2="609.00" stroke="#000" stroke-width="1.3"/>
<line x1="57.90" y1="608.50" x2="252.00" y2="608.50" stroke="#000" stroke-width="1.3"/>
<line x1="55.50" y1="608.50" x2="58.50" y2="608.50" stroke="#000" stroke-width="1"/>
<text x="40.55" y="612.40" font-size="11" text-anchor="start" fill="#000" font-weight="normal" style='font-family:"Liberation Sans", sans-serif' stroke="#000" stroke-width="0.2">0</text>
<line x1="55.50" y1="591.16" x2="58.50" y2="591.16" stroke="#000" stroke-width="1"/>
<text x="30.15" y="595.06" font-size="11" text-anchor="start" fill="#000" font-weight="normal" style='font-family:"Liberation Sans", sans-serif' stroke="#000" stroke-width="0.2">0.05</text>
<line x1="55.50" y1="573.83" x2="58.50" y2="573.83" stroke="#000" stroke-width="1"/>
<text x="34.15" y="577.73" font-size="11" text-anchor="start" fill="#000" font-weight="normal" style='font-family:"Liberation Sans", sans-serif' stroke="#000" stroke-width="0.2">0.1</text>
<line x1="55.50" y1="556.49" x2="58.50" y2="556.49" stroke="#000" stroke-width="1"/>
<text x="30.15" y="560.39" font-size="11" text-anchor="start" fill="#000" font-weight="normal" style='font-family:"Liberation Sans", sans-serif' stroke="#000" stroke-width="0.2">0.15</text>
<line x1="55.50" y1="539.15" x2="58.50" y2="539.15" stroke="#000" stroke-width="1"/>
<text x="34.15" y="543.05" font-size="11" text-anchor="start" fill="#000" font-weight="normal" style='font-family:"Liberation Sans", sans-serif' stroke="#000" stroke-width="0.2">0.2</text>
<line x1="55.50" y1="521.81" x2="58.50" y2="521.81" stroke="#000" stroke-width="1"/>
<text x="30.15" y="525.71" font-size="11" text-anchor="start" fill="#000" font-weight="normal" style='font-family:"Liberation Sans", sans-serif' stroke="#000" stroke-width="0.2">0.25</text>
<line x1="55.50" y1="504.48" x2="58.50" y2="504.48" stroke="#000" stroke-width="1"/>
<text x="34.15" y="508.38" font-size="11" text-anchor="start" fill="#000" font-weight="normal" style='font-family:"Liberation Sans", sans-serif' stroke="#000" stroke-width="0.2">0.3</text>
<line x1="55.50" y1="487.14" x2="58.50" y2="487.14" stroke="#000" stroke-width="1"/>
<text x="30.15" y="491.04" font-size="11" text-anchor="start" fill="#000" font-weight="normal" style='font-family:"Liberation Sans", sans-serif' stroke="#000" stroke-width="0.2">0.35</text>
<line x1="55.50" y1="469.80" x2="58.50" y2="469.80" stroke="#000" stroke-width="1"/>
<text x="34.15" y="473.70" font-size="11" text-anchor="start" fill="#000" font-weight="normal" style='font-family:"Liberation Sans", sans-serif' stroke="#000" stroke-width="0.2">0.4</text>
<line x1="251.40" y1="608.50" x2="254.40" y2="608.50" stroke="#000" stroke-width="1"/>
<text x="259.80" y="612.40" font-size="11" text-anchor="start" fill="#000" font-weight="normal" style='font-family:"Liberation Sans", sans-serif' stroke="#000" stroke-width="0.2">0</text>
<line x1="251.40" y1="591.16" x2="254.40" y2="591.16" stroke="#000" stroke-width="1"/>
<text x="259.80" y="595.06" font-size="11" text-anchor="start" fill="#000" font-weight="normal" style='font-family:"Liberation Sans", sans-serif' stroke="#000" stroke-width="0.2">2</text>
<line x1="251.40" y1="573.83" x2="254.40" y2="573.83" stroke="#000" stroke-width="1"/>
<text x="259.80" y="577.73" font-size="11" text-anchor="start" fill="#000" font-weight="normal" style='font-family:"Liberation Sans", sans-serif' stroke="#000" stroke-width="0.2">4</text>
<line x1="251.40" y1="556.49" x2="254.40" y2="556.49" stroke="#000" stroke-width="1"/>
<text x="259.80" y="560.39" font-size="11" text-anchor="start" fill="#000" font-weight="normal" style='font-family:"Liberation Sans", sans-serif' stroke="#000" stroke-width="0.2">6</text>
<line x1="251.40" y1="539.15" x2="254.40" y2="539.15" stroke="#000" stroke-width="1"/>
<text x="259.80" y="543.05" font-size="11" text-anchor="start" fill="#000" font-weight="normal" style='font-family:"Liberation Sans", sans-serif' stroke="#000" stroke-width="0.2">8</text>
<line x1="251.40" y1="521.81" x2="254.40" y2="521.81" stroke="#000" stroke-width="1"/>
<text x="259.80" y="525.71" font-size="11" text-anchor="start" fill="#000" font-weight="normal" style='font-family:"Liberation Sans", sans-serif' stroke="#000" stroke-width="0.2">10</text>
<line x1="251.40" y1="504.48" x2="254.40" y2="504.48" stroke="#000" stroke-width="1"/>
<text x="259.80" y="508.38" font-size="11" text-anchor="start" fill="#000" font-weight="normal" style='font-family:"Liberation Sans", sans-serif' stroke="#000" stroke-width="0.2">12</text>
<line x1="251.40" y1="487.14" x2="254.40" y2="487.14" stroke="#000" stroke-width="1"/>
<text x="259.80" y="491.04" font-size="11" text-anchor="start" fill="#000" font-weight="normal" style='font-family:"Liberation Sans", sans-serif' stroke="#000" stroke-width="0.2">14</text>
<line x1="251.40" y1="469.80" x2="254.40" y2="469.80" stroke="#000" stroke-width="1"/>
<text x="259.80" y="473.70" font-size="11" text-anchor="start" fill="#000" font-weight="normal" style='font-family:"Liberation Sans", sans-serif' stroke="#000" stroke-width="0.2">16</text>
<line x1="58.50" y1="608.50" x2="58.50" y2="611.50" stroke="#000" stroke-width="1"/>
<line x1="74.58" y1="608.50" x2="74.58" y2="611.50" stroke="#000" stroke-width="1"/>
<line x1="90.65" y1="608.50" x2="90.65" y2="611.50" stroke="#000" stroke-width="1"/>
<line x1="106.72" y1="608.50" x2="106.72" y2="611.50" stroke="#000" stroke-width="1"/>
<line x1="122.80" y1="608.50" x2="122.80" y2="611.50" stroke="#000" stroke-width="1"/>
<line x1="138.88" y1="608.50" x2="138.88" y2="611.50" stroke="#000" stroke-width="1"/>
<line x1="154.95" y1="608.50" x2="154.95" y2="611.50" stroke="#000" stroke-width="1"/>
<line x1="171.02" y1="608.50" x2="171.02" y2="611.50" stroke="#000" stroke-width="1"/>
<line x1="187.10" y1="608.50" x2="187.10" y2="611.50" stroke="#000" stroke-width="1"/>
<line x1="203.17" y1="608.50" x2="203.17" y2="611.50" stroke="#000" stroke-width="1"/>
<line x1="219.25" y1="608.50" x2="219.25" y2="611.50" stroke="#000" stroke-width="1"/>
<line x1="235.32" y1="608.50" x2="235.32" y2="611.50" stroke="#000" stroke-width="1"/>
<line x1="251.40" y1="608.50" x2="251.40" y2="611.50" stroke="#000" stroke-width="1"/>
<polyline points="66.54,513.14 82.61,521.81 98.69,530.48 114.76,521.81 130.84,521.81 146.91,504.48 162.99,495.81 179.06,478.47 195.14,478.47 211.21,487.14 227.29,487.14 243.36,504.48" fill="none" stroke="#666" stroke-width="1.2" stroke-linejoin="miter"/>
<path d="M66.54 510.54L69.14 513.14L66.54 515.74L63.94 513.14Z" fill="#000" stroke="#000" stroke-width="0.6"/>
<path d="M82.61 519.21L85.21 521.81L82.61 524.41L80.01 521.81Z" fill="#000" stroke="#000" stroke-width="0.6"/>
<path d="M98.69 527.88L101.29 530.48L98.69 533.08L96.09 530.48Z" fill="#000" stroke="#000" stroke-width="0.6"/>
<path d="M114.76 519.21L117.36 521.81L114.76 524.41L112.16 521.81Z" fill="#000" stroke="#000" stroke-width="0.6"/>
<path d="M130.84 519.21L133.44 521.81L130.84 524.41L128.24 521.81Z" fill="#000" stroke="#000" stroke-width="0.6"/>
<path d="M146.91 501.88L149.51 504.48L146.91 507.08L144.31 504.48Z" fill="#000" stroke="#000" stroke-width="0.6"/>
<path d="M162.99 493.21L165.59 495.81L162.99 498.41L160.39 495.81Z" fill="#000" stroke="#000" stroke-width="0.6"/>
<path d="M179.06 475.87L181.66 478.47L179.06 481.07L176.46 478.47Z" fill="#000" stroke="#000" stroke-width="0.6"/>
<path d="M195.14 475.87L197.74 478.47L195.14 481.07L192.54 478.47Z" fill="#000" stroke="#000" stroke-width="0.6"/>
<path d="M211.21 484.54L213.81 487.14L211.21 489.74L208.61 487.14Z" fill="#000" stroke="#000" stroke-width="0.6"/>
<path d="M227.29 484.54L229.89 487.14L227.29 489.74L224.69 487.14Z" fill="#000" stroke="#000" stroke-width="0.6"/>
<path d="M243.36 501.88L245.96 504.48L243.36 507.08L240.76 504.48Z" fill="#000" stroke="#000" stroke-width="0.6"/>
<polyline points="66.54,605.38 82.61,556.49 98.69,594.63 114.76,603.30 130.84,569.66 146.91,492.34 162.99,516.61 179.06,490.61 195.14,504.48 211.21,557.87 227.29,546.09 243.36,539.15" fill="none" stroke="#000" stroke-width="1.3" stroke-linejoin="miter"/>
<polyline points="66.54,607.46 82.61,574.87 98.69,595.32 114.76,591.86 130.84,593.24 146.91,601.91 162.99,599.83 179.06,590.12 195.14,603.30 211.21,576.25 227.29,558.57 243.36,564.46" fill="none" stroke="#000" stroke-width="1.6" stroke-linejoin="miter"/>
<circle cx="66.54" cy="605.38" r="2.6" fill="#fff" stroke="#000" stroke-width="1"/>
<circle cx="82.61" cy="556.49" r="2.6" fill="#fff" stroke="#000" stroke-width="1"/>
<circle cx="98.69" cy="594.63" r="2.6" fill="#fff" stroke="#000" stroke-width="1"/>
<circle cx="114.76" cy="603.30" r="2.6" fill="#fff" stroke="#000" stroke-width="1"/>
<circle cx="130.84" cy="569.66" r="2.6" fill="#fff" stroke="#000" stroke-width="1"/>
<circle cx="146.91" cy="492.34" r="2.6" fill="#fff" stroke="#000" stroke-width="1"/>
<circle cx="162.99" cy="516.61" r="2.6" fill="#fff" stroke="#000" stroke-width="1"/>
<circle cx="179.06" cy="490.61" r="2.6" fill="#fff" stroke="#000" stroke-width="1"/>
<circle cx="195.14" cy="504.48" r="2.6" fill="#fff" stroke="#000" stroke-width="1"/>
<circle cx="211.21" cy="557.87" r="2.6" fill="#fff" stroke="#000" stroke-width="1"/>
<circle cx="227.29" cy="546.09" r="2.6" fill="#fff" stroke="#000" stroke-width="1"/>
<circle cx="243.36" cy="539.15" r="2.6" fill="#fff" stroke="#000" stroke-width="1"/>
<circle cx="66.54" cy="607.46" r="2.8" fill="#000" stroke="#000" stroke-width="0.5"/>
<circle cx="82.61" cy="574.87" r="2.8" fill="#000" stroke="#000" stroke-width="0.5"/>
<circle cx="98.69" cy="595.32" r="2.8" fill="#000" stroke="#000" stroke-width="0.5"/>
<circle cx="114.76" cy="591.86" r="2.8" fill="#000" stroke="#000" stroke-width="0.5"/>
<circle cx="130.84" cy="593.24" r="2.8" fill="#000" stroke="#000" stroke-width="0.5"/>
<circle cx="146.91" cy="601.91" r="2.8" fill="#000" stroke="#000" stroke-width="0.5"/>
<circle cx="162.99" cy="599.83" r="2.8" fill="#000" stroke="#000" stroke-width="0.5"/>
<circle cx="179.06" cy="590.12" r="2.8" fill="#000" stroke="#000" stroke-width="0.5"/>
<circle cx="195.14" cy="603.30" r="2.8" fill="#000" stroke="#000" stroke-width="0.5"/>
<circle cx="211.21" cy="576.25" r="2.8" fill="#000" stroke="#000" stroke-width="0.5"/>
<circle cx="227.29" cy="558.57" r="2.8" fill="#000" stroke="#000" stroke-width="0.5"/>
<circle cx="243.36" cy="564.46" r="2.8" fill="#000" stroke="#000" stroke-width="0.5"/>
<text x="67.34" y="624.00" font-size="11" text-anchor="middle" fill="#000" font-weight="normal" style='font-family:"Liberation Sans", sans-serif' stroke="#000" stroke-width="0.2">A</text>
<text x="83.41" y="624.00" font-size="11" text-anchor="middle" fill="#000" font-weight="normal" style='font-family:"Liberation Sans", sans-serif' stroke="#000" stroke-width="0.2">M</text>
<text x="99.49" y="624.00" font-size="11" text-anchor="middle" fill="#000" font-weight="normal" style='font-family:"Liberation Sans", sans-serif' stroke="#000" stroke-width="0.2">J</text>
<text x="115.56" y="624.00" font-size="11" text-anchor="middle" fill="#000" font-weight="normal" style='font-family:"Liberation Sans", sans-serif' stroke="#000" stroke-width="0.2">J</text>
<text x="131.64" y="624.00" font-size="11" text-anchor="middle" fill="#000" font-weight="normal" style='font-family:"Liberation Sans", sans-serif' stroke="#000" stroke-width="0.2">A</text>
<text x="147.71" y="624.00" font-size="11" text-anchor="middle" fill="#000" font-weight="normal" style='font-family:"Liberation Sans", sans-serif' stroke="#000" stroke-width="0.2">S</text>
<text x="163.79" y="624.00" font-size="11" text-anchor="middle" fill="#000" font-weight="normal" style='font-family:"Liberation Sans", sans-serif' stroke="#000" stroke-width="0.2">O</text>
<text x="179.86" y="624.00" font-size="11" text-anchor="middle" fill="#000" font-weight="normal" style='font-family:"Liberation Sans", sans-serif' stroke="#000" stroke-width="0.2">N</text>
<text x="195.94" y="624.00" font-size="11" text-anchor="middle" fill="#000" font-weight="normal" style='font-family:"Liberation Sans", sans-serif' stroke="#000" stroke-width="0.2">D</text>
<text x="212.01" y="624.00" font-size="11" text-anchor="middle" fill="#000" font-weight="normal" style='font-family:"Liberation Sans", sans-serif' stroke="#000" stroke-width="0.2">J</text>
<text x="228.09" y="624.00" font-size="11" text-anchor="middle" fill="#000" font-weight="normal" style='font-family:"Liberation Sans", sans-serif' stroke="#000" stroke-width="0.2">F</text>
<text x="244.16" y="624.00" font-size="11" text-anchor="middle" fill="#000" font-weight="normal" style='font-family:"Liberation Sans", sans-serif' stroke="#000" stroke-width="0.2">M</text>
<text x="9.80" y="606.30" font-size="12" text-anchor="start" fill="#000" font-weight="normal" style='font-family:"Liberation Sans", sans-serif' transform="rotate(-90 9.80 606.30)" textLength="137.2" lengthAdjust="spacingAndGlyphs" stroke="#000" stroke-width="0.2">Female-male gametangia</text>
<text x="22.60" y="558.20" font-size="12" text-anchor="start" fill="#000" font-weight="normal" style='font-family:"Liberation Sans", sans-serif' transform="rotate(-90 22.60 558.20)" stroke="#000" stroke-width="0.2">per mm<tspan font-size="10.2" dy="-3.9">2</tspan></text>
<text x="286.80" y="575.60" font-size="12" text-anchor="start" fill="#000" font-weight="normal" style='font-family:"Liberation Sans", sans-serif' transform="rotate(-90 286.80 575.60)" textLength="73.4" lengthAdjust="spacingAndGlyphs" stroke="#000" stroke-width="0.2">Daylength (h)</text>
<line x1="61.60" y1="464.80" x2="73.40" y2="464.80" stroke="#666" stroke-width="0.8"/>
<circle cx="67.60" cy="464.80" r="1.6" fill="#fff" stroke="#555" stroke-width="0.8"/>
<text x="78.30" y="467.10" font-size="11" text-anchor="start" fill="#000" font-weight="normal" style='font-family:"Liberation Sans", sans-serif' stroke="#000" stroke-width="0.2">Apical regions</text>
<line x1="61.60" y1="479.00" x2="73.40" y2="479.00" stroke="#666" stroke-width="0.8"/>
<path d="M67.60 477.40L69.20 479.00L67.60 480.60L66.00 479.00Z" fill="#000" stroke="#000" stroke-width="0.6"/>
<text x="75.90" y="481.10" font-size="11" text-anchor="start" fill="#000" font-weight="normal" style='font-family:"Liberation Sans", sans-serif' stroke="#000" stroke-width="0.2">Daylength</text>
<line x1="162.30" y1="465.20" x2="172.80" y2="465.20" stroke="#333" stroke-width="0.8"/>
<circle cx="167.60" cy="465.20" r="1.3" fill="#000" stroke="#000" stroke-width="0.5"/>
<text x="176.30" y="467.40" font-size="11" text-anchor="start" fill="#000" font-weight="normal" style='font-family:"Liberation Sans", sans-serif' stroke="#000" stroke-width="0.2">Basal regions</text>
<text x="320.60" y="449.30" font-size="13" text-anchor="start" fill="#000" font-weight="normal" style='font-family:"Liberation Sans", sans-serif' stroke="#000" stroke-width="0.35">25</text>
<line x1="363.80" y1="461.70" x2="363.80" y2="609.60" stroke="#000" stroke-width="1.3"/>
<line x1="363.20" y1="609.10" x2="569.30" y2="609.10" stroke="#000" stroke-width="1.3"/>
<line x1="360.80" y1="609.10" x2="363.80" y2="609.10" stroke="#000" stroke-width="1"/>
<text x="348.15" y="613.00" font-size="11" text-anchor="start" fill="#000" font-weight="normal" style='font-family:"Liberation Sans", sans-serif' stroke="#000" stroke-width="0.2">0</text>
<line x1="360.80" y1="588.04" x2="363.80" y2="588.04" stroke="#000" stroke-width="1"/>
<text x="336.15" y="591.94" font-size="11" text-anchor="start" fill="#000" font-weight="normal" style='font-family:"Liberation Sans", sans-serif' stroke="#000" stroke-width="0.2">0.05</text>
<line x1="360.80" y1="566.99" x2="363.80" y2="566.99" stroke="#000" stroke-width="1"/>
<text x="340.95" y="570.89" font-size="11" text-anchor="start" fill="#000" font-weight="normal" style='font-family:"Liberation Sans", sans-serif' stroke="#000" stroke-width="0.2">0.1</text>
<line x1="360.80" y1="545.93" x2="363.80" y2="545.93" stroke="#000" stroke-width="1"/>
<text x="336.15" y="549.83" font-size="11" text-anchor="start" fill="#000" font-weight="normal" style='font-family:"Liberation Sans", sans-serif' stroke="#000" stroke-width="0.2">0.15</text>
<line x1="360.80" y1="524.87" x2="363.80" y2="524.87" stroke="#000" stroke-width="1"/>
<text x="340.95" y="528.77" font-size="11" text-anchor="start" fill="#000" font-weight="normal" style='font-family:"Liberation Sans", sans-serif' stroke="#000" stroke-width="0.2">0.2</text>
<line x1="360.80" y1="503.81" x2="363.80" y2="503.81" stroke="#000" stroke-width="1"/>
<text x="336.15" y="507.71" font-size="11" text-anchor="start" fill="#000" font-weight="normal" style='font-family:"Liberation Sans", sans-serif' stroke="#000" stroke-width="0.2">0.25</text>
<line x1="360.80" y1="482.76" x2="363.80" y2="482.76" stroke="#000" stroke-width="1"/>
<text x="340.95" y="486.66" font-size="11" text-anchor="start" fill="#000" font-weight="normal" style='font-family:"Liberation Sans", sans-serif' stroke="#000" stroke-width="0.2">0.3</text>
<line x1="360.80" y1="461.70" x2="363.80" y2="461.70" stroke="#000" stroke-width="1"/>
<text x="336.15" y="465.60" font-size="11" text-anchor="start" fill="#000" font-weight="normal" style='font-family:"Liberation Sans", sans-serif' stroke="#000" stroke-width="0.2">0.35</text>
<line x1="363.80" y1="609.10" x2="363.80" y2="612.10" stroke="#000" stroke-width="1"/>
<line x1="415.18" y1="609.10" x2="415.18" y2="612.10" stroke="#000" stroke-width="1"/>
<line x1="466.55" y1="609.10" x2="466.55" y2="612.10" stroke="#000" stroke-width="1"/>
<line x1="517.92" y1="609.10" x2="517.92" y2="612.10" stroke="#000" stroke-width="1"/>
<line x1="569.30" y1="609.10" x2="569.30" y2="612.10" stroke="#000" stroke-width="1"/>
<rect x="370.59" y="585.59" width="9.40" height="23.51" fill="#000" stroke="#000" stroke-width="1"/>
<rect x="380.99" y="597.81" width="7.70" height="11.29" fill="#666" stroke="#333" stroke-width="1"/>
<rect x="389.59" y="573.38" width="8.40" height="35.72" fill="#fff" stroke="#000" stroke-width="1"/>
<rect x="398.99" y="583.91" width="8.70" height="25.19" fill="#ddd" stroke="#000" stroke-width="1"/>
<text x="390.20" y="624.80" font-size="11" text-anchor="middle" fill="#000" font-weight="normal" style='font-family:"Liberation Sans", sans-serif' stroke="#000" stroke-width="0.2">Autumn</text>
<rect x="421.96" y="599.91" width="9.40" height="9.19" fill="#000" stroke="#000" stroke-width="1"/>
<rect x="432.36" y="597.39" width="7.70" height="11.71" fill="#666" stroke="#333" stroke-width="1"/>
<rect x="440.96" y="595.28" width="8.40" height="13.82" fill="#fff" stroke="#000" stroke-width="1"/>
<rect x="450.36" y="602.44" width="8.70" height="6.66" fill="#ddd" stroke="#000" stroke-width="1"/>
<text x="444.90" y="624.80" font-size="11" text-anchor="middle" fill="#000" font-weight="normal" style='font-family:"Liberation Sans", sans-serif' stroke="#000" stroke-width="0.2">Winter</text>
<rect x="473.34" y="533.79" width="9.40" height="75.31" fill="#000" stroke="#000" stroke-width="1"/>
<rect x="483.74" y="599.91" width="7.70" height="9.19" fill="#666" stroke="#333" stroke-width="1"/>
<rect x="492.34" y="555.69" width="8.40" height="53.41" fill="#fff" stroke="#000" stroke-width="1"/>
<rect x="501.74" y="604.97" width="8.70" height="4.13" fill="#ddd" stroke="#000" stroke-width="1"/>
<text x="494.50" y="624.80" font-size="11" text-anchor="middle" fill="#000" font-weight="normal" style='font-family:"Liberation Sans", sans-serif' stroke="#000" stroke-width="0.2">Spring</text>
<rect x="524.71" y="555.69" width="9.40" height="53.41" fill="#000" stroke="#000" stroke-width="1"/>
<rect x="535.11" y="593.18" width="7.70" height="15.92" fill="#666" stroke="#333" stroke-width="1"/>
<rect x="543.71" y="573.38" width="8.40" height="35.72" fill="#fff" stroke="#000" stroke-width="1"/>
<rect x="553.11" y="589.81" width="8.70" height="19.29" fill="#ddd" stroke="#000" stroke-width="1"/>
<text x="548.40" y="624.80" font-size="11" text-anchor="middle" fill="#000" font-weight="normal" style='font-family:"Liberation Sans", sans-serif' stroke="#000" stroke-width="0.2">Summer</text>
<text x="376.19" y="595.49" font-size="11" text-anchor="middle" fill="#fff" font-weight="normal" style='font-family:"Liberation Sans", sans-serif' stroke="#fff" stroke-width="0.2">b</text>
<text x="394.39" y="580.78" font-size="11" text-anchor="middle" fill="#707070" font-weight="normal" style='font-family:"Liberation Sans", sans-serif' stroke="#707070" stroke-width="0.2">a</text>
<text x="403.34" y="593.81" font-size="11" text-anchor="middle" fill="#707070" font-weight="normal" style='font-family:"Liberation Sans", sans-serif' stroke="#707070" stroke-width="0.2">b</text>
<text x="427.26" y="607.31" font-size="11" text-anchor="middle" fill="#fff" font-weight="normal" style='font-family:"Liberation Sans", sans-serif' stroke="#fff" stroke-width="0.2">a</text>
<text x="445.16" y="602.68" font-size="11" text-anchor="middle" fill="#707070" font-weight="normal" style='font-family:"Liberation Sans", sans-serif' stroke="#707070" stroke-width="0.2">a</text>
<text x="454.71" y="607.60" font-size="11" text-anchor="middle" fill="#707070" font-weight="normal" style='font-family:"Liberation Sans", sans-serif' stroke="#707070" stroke-width="0.2">a</text>
<text x="478.04" y="541.60" font-size="11" text-anchor="middle" fill="#fff" font-weight="normal" style='font-family:"Liberation Sans", sans-serif' stroke="#fff" stroke-width="0.2">c</text>
<text x="496.54" y="565.59" font-size="11" text-anchor="middle" fill="#707070" font-weight="normal" style='font-family:"Liberation Sans", sans-serif' stroke="#707070" stroke-width="0.2">b</text>
<text x="506.09" y="602.60" font-size="11" text-anchor="middle" fill="#707070" font-weight="normal" style='font-family:"Liberation Sans", sans-serif' stroke="#707070" stroke-width="0.2">a</text>
<text x="530.01" y="565.59" font-size="11" text-anchor="middle" fill="#fff" font-weight="normal" style='font-family:"Liberation Sans", sans-serif' stroke="#fff" stroke-width="0.2">b</text>
<text x="547.91" y="580.78" font-size="11" text-anchor="middle" fill="#707070" font-weight="normal" style='font-family:"Liberation Sans", sans-serif' stroke="#707070" stroke-width="0.2">a</text>
<text x="557.46" y="599.71" font-size="11" text-anchor="middle" fill="#707070" font-weight="normal" style='font-family:"Liberation Sans", sans-serif' stroke="#707070" stroke-width="0.2">b</text>
<polyline points="389.49,548.88 440.86,585.52 492.24,476.65 543.61,521.08" fill="none" stroke="#000" stroke-width="1.3" stroke-linejoin="miter"/>
<polyline points="389.49,570.35 440.86,590.57 492.24,594.78 543.61,572.46" fill="none" stroke="#000" stroke-width="1.3" stroke-linejoin="miter"/>
<circle cx="389.49" cy="548.88" r="1.8" fill="#fff" stroke="#000" stroke-width="1"/>
<circle cx="440.86" cy="585.52" r="1.8" fill="#fff" stroke="#000" stroke-width="1"/>
<circle cx="492.24" cy="476.65" r="1.8" fill="#fff" stroke="#000" stroke-width="1"/>
<circle cx="543.61" cy="521.08" r="1.8" fill="#fff" stroke="#000" stroke-width="1"/>
<circle cx="389.49" cy="570.35" r="2.0" fill="#000" stroke="#000" stroke-width="0.5"/>
<circle cx="440.86" cy="590.57" r="2.0" fill="#000" stroke="#000" stroke-width="0.5"/>
<circle cx="492.24" cy="594.78" r="2.0" fill="#000" stroke="#000" stroke-width="0.5"/>
<circle cx="543.61" cy="572.46" r="2.0" fill="#000" stroke="#000" stroke-width="0.5"/>
<text x="314.20" y="601.90" font-size="12" text-anchor="start" fill="#000" font-weight="normal" style='font-family:"Liberation Sans", sans-serif' transform="rotate(-90 314.20 601.90)" textLength="139.5" lengthAdjust="spacingAndGlyphs" stroke="#000" stroke-width="0.2">#female-male gametangia</text>
<text x="327.80" y="551.80" font-size="12" text-anchor="start" fill="#000" font-weight="normal" style='font-family:"Liberation Sans", sans-serif' transform="rotate(-90 327.80 551.80)" stroke="#000" stroke-width="0.2">per mm<tspan font-size="10.2" dy="-3.9">2</tspan></text>
<rect x="372.30" y="456.60" width="15.70" height="3.60" fill="#222" stroke="#000" stroke-width="0.8"/>
<text x="390.60" y="460.80" font-size="11" text-anchor="start" fill="#000" font-weight="normal" style='font-family:"Liberation Sans", sans-serif' stroke="#000" stroke-width="0.2">Apical females</text>
<rect x="372.30" y="468.00" width="15.70" height="3.60" fill="#fff" stroke="#333" stroke-width="0.8"/>
<text x="390.60" y="473.20" font-size="11" text-anchor="start" fill="#000" font-weight="normal" style='font-family:"Liberation Sans", sans-serif' stroke="#000" stroke-width="0.2">Apical males</text>
<rect x="372.30" y="480.30" width="15.70" height="3.60" fill="#777" stroke="#555" stroke-width="0.8"/>
<text x="390.60" y="485.80" font-size="11" text-anchor="start" fill="#000" font-weight="normal" style='font-family:"Liberation Sans", sans-serif' stroke="#000" stroke-width="0.2">Basal females</text>
<rect x="372.30" y="492.70" width="15.70" height="3.60" fill="#ddd" stroke="#555" stroke-width="0.8"/>
<text x="390.60" y="498.20" font-size="11" text-anchor="start" fill="#000" font-weight="normal" style='font-family:"Liberation Sans", sans-serif' stroke="#000" stroke-width="0.2">Basal males</text>
<line x1="466.00" y1="458.00" x2="478.70" y2="458.00" stroke="#333" stroke-width="0.8"/>
<circle cx="472.60" cy="458.00" r="1.3" fill="#000" stroke="#000" stroke-width="0.5"/>
<text x="481.80" y="460.50" font-size="11" text-anchor="start" fill="#000" font-weight="normal" style='font-family:"Liberation Sans", sans-serif' stroke="#000" stroke-width="0.2">Basal gametangia</text>
<line x1="466.00" y1="470.00" x2="478.70" y2="470.00" stroke="#333" stroke-width="0.8"/>
<circle cx="472.60" cy="470.00" r="1.5" fill="#fff" stroke="#333" stroke-width="0.8"/>
<text x="481.80" y="472.00" font-size="11" text-anchor="start" fill="#000" font-weight="normal" style='font-family:"Liberation Sans", sans-serif' stroke="#000" stroke-width="0.2">Apical gametangia</text>
</svg>
</body></html>
